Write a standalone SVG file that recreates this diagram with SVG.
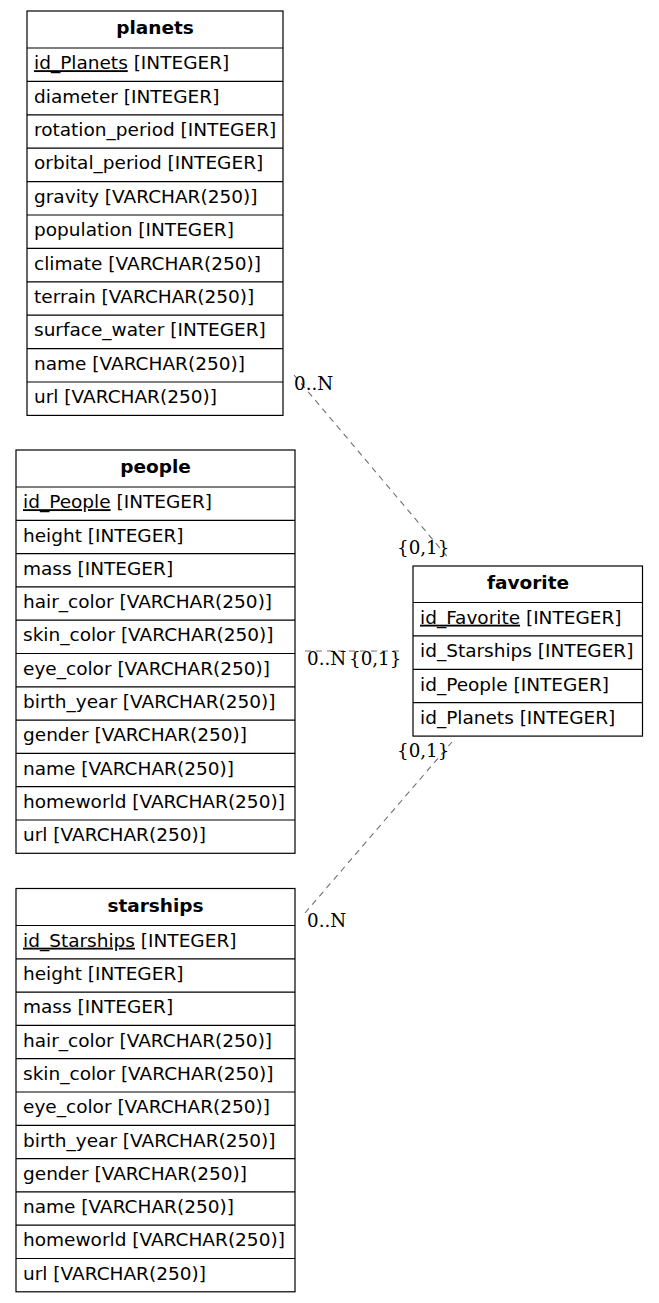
<svg xmlns="http://www.w3.org/2000/svg" width="659" height="1303" viewBox="0 0 659 1303">
<style>
.box{fill:#fff;stroke:#000;stroke-width:1.2}
.sep{stroke:#000;stroke-width:1.2}
.h{font-family:"DejaVu Sans",sans-serif;font-size:18.5px;font-weight:bold;text-anchor:middle;fill:#000}
.f{font-family:"DejaVu Sans",sans-serif;font-size:18.5px;fill:#000}
.u{text-decoration:underline}
.e{stroke:#707070;stroke-width:1.1;stroke-dasharray:6,5;fill:none}
.l{font-family:"DejaVu Serif",serif;font-size:18.3px;fill:#000}
</style>
<rect width="659" height="1303" fill="#fff"/>
<g id="connectors">
<path class="e" d="M294,375 L450,560"/>
<path class="e" d="M305,651 L403,651"/>
<path class="e" d="M305,913 L452,742"/>
<text class="l" x="294" y="390">0..N</text>
<text class="l" x="397" y="554">{0,1}</text>
<text class="l" x="307" y="665">0..N</text>
<text class="l" x="349" y="665">{0,1}</text>
<text class="l" x="397" y="757">{0,1}</text>
<text class="l" x="307" y="927">0..N</text>
</g>
<g id="planets">
<rect class="box" x="27" y="11" width="256" height="404.4"/>
<path class="sep" d="M27,48H283M27,81.4H283M27,114.8H283M27,148.2H283M27,181.6H283M27,215H283M27,248.4H283M27,281.8H283M27,315.2H283M27,348.6H283M27,382H283"/>
<text class="h" x="155" y="34">planets</text>
<text class="f" x="34" y="69.2"><tspan class="u">id_Planets</tspan> [INTEGER]</text>
<text class="f" x="34" y="102.6">diameter [INTEGER]</text>
<text class="f" x="34" y="136">rotation_period [INTEGER]</text>
<text class="f" x="34" y="169.4">orbital_period [INTEGER]</text>
<text class="f" x="34" y="202.8">gravity [VARCHAR(250)]</text>
<text class="f" x="34" y="236.2">population [INTEGER]</text>
<text class="f" x="34" y="269.6">climate [VARCHAR(250)]</text>
<text class="f" x="34" y="303">terrain [VARCHAR(250)]</text>
<text class="f" x="34" y="336.4">surface_water [INTEGER]</text>
<text class="f" x="34" y="369.8">name [VARCHAR(250)]</text>
<text class="f" x="34" y="403.2">url [VARCHAR(250)]</text>
</g>
<g id="people">
<rect class="box" x="16" y="450" width="279" height="403.3"/>
<path class="sep" d="M16,487H295M16,520.3H295M16,553.6H295M16,586.9H295M16,620.2H295M16,653.5H295M16,686.8H295M16,720.1H295M16,753.4H295M16,786.7H295M16,820H295"/>
<text class="h" x="155.5" y="473">people</text>
<text class="f" x="23" y="508.2"><tspan class="u">id_People</tspan> [INTEGER]</text>
<text class="f" x="23" y="541.5">height [INTEGER]</text>
<text class="f" x="23" y="574.8">mass [INTEGER]</text>
<text class="f" x="23" y="608.1">hair_color [VARCHAR(250)]</text>
<text class="f" x="23" y="641.4">skin_color [VARCHAR(250)]</text>
<text class="f" x="23" y="674.7">eye_color [VARCHAR(250)]</text>
<text class="f" x="23" y="708">birth_year [VARCHAR(250)]</text>
<text class="f" x="23" y="741.3">gender [VARCHAR(250)]</text>
<text class="f" x="23" y="774.6">name [VARCHAR(250)]</text>
<text class="f" x="23" y="807.9">homeworld [VARCHAR(250)]</text>
<text class="f" x="23" y="841.2">url [VARCHAR(250)]</text>
</g>
<g id="favorite">
<rect class="box" x="413" y="566" width="229.5" height="170.1"/>
<path class="sep" d="M413,602.5H642.5M413,635.9H642.5M413,669.3H642.5M413,702.7H642.5"/>
<text class="h" x="528" y="588.8">favorite</text>
<text class="f" x="420" y="623.7"><tspan class="u">id_Favorite</tspan> [INTEGER]</text>
<text class="f" x="420" y="657.1">id_Starships [INTEGER]</text>
<text class="f" x="420" y="690.5">id_People [INTEGER]</text>
<text class="f" x="420" y="723.9">id_Planets [INTEGER]</text>
</g>
<g id="starships">
<rect class="box" x="16" y="888.5" width="279" height="403.3"/>
<path class="sep" d="M16,925.5H295M16,958.8H295M16,992.1H295M16,1025.4H295M16,1058.7H295M16,1092H295M16,1125.3H295M16,1158.6H295M16,1191.9H295M16,1225.2H295M16,1258.5H295"/>
<text class="h" x="155.5" y="911.5">starships</text>
<text class="f" x="23" y="946.7"><tspan class="u">id_Starships</tspan> [INTEGER]</text>
<text class="f" x="23" y="980">height [INTEGER]</text>
<text class="f" x="23" y="1013.3">mass [INTEGER]</text>
<text class="f" x="23" y="1046.6">hair_color [VARCHAR(250)]</text>
<text class="f" x="23" y="1079.9">skin_color [VARCHAR(250)]</text>
<text class="f" x="23" y="1113.2">eye_color [VARCHAR(250)]</text>
<text class="f" x="23" y="1146.5">birth_year [VARCHAR(250)]</text>
<text class="f" x="23" y="1179.8">gender [VARCHAR(250)]</text>
<text class="f" x="23" y="1213.1">name [VARCHAR(250)]</text>
<text class="f" x="23" y="1246.4">homeworld [VARCHAR(250)]</text>
<text class="f" x="23" y="1279.7">url [VARCHAR(250)]</text>
</g>
</svg>
